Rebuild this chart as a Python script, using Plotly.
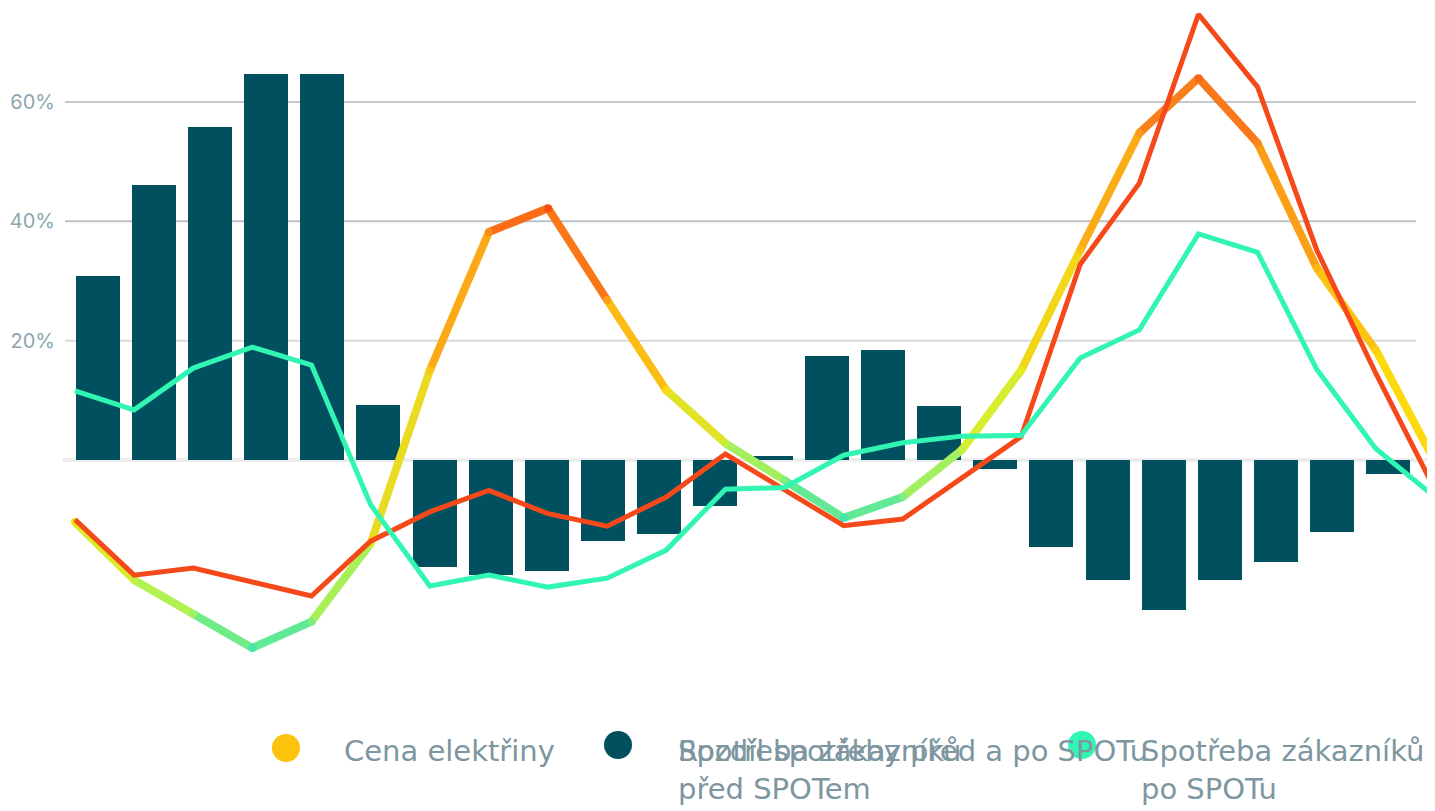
import plotly.graph_objects as go

# ---- data ----
HOURS = list(range(24))
PRICE = [-10.4, -20.1, -25.8, -31.5, -27.1, -14.0, 15.0, 38.2, 42.2, 26.8, 11.7, 2.8,
         -3.4, -9.7, -6.2, 1.7, 15.0, 35.2, 54.8, 64.0, 53.1, 32.2, 18.4, -0.3]
BEFORE = [-10.0, -19.3, -18.1, -20.4, -22.8, -13.6, -8.7, -5.1, -9.0, -11.1, -6.2, 1.0,
          -5.0, -11.0, -9.9, -2.9, 3.9, 32.8, 46.4, 74.7, 62.5, 35.2, 14.5, -5.0]
AFTER = [11.6, 8.4, 15.4, 18.9, 15.9, -7.5, -21.1, -19.3, -21.3, -19.8, -15.1, -4.9,
         -4.6, 0.8, 2.9, 4.0, 4.1, 17.1, 21.8, 37.9, 34.8, 15.2, 1.9, -6.2]
DIFF = [30.8, 46.1, 55.8, 64.7, 64.7, 9.2, -17.9, -19.3, -18.6, -13.6, -12.4, -7.7,
        0.6, 17.4, 18.4, 9.0, -1.5, -14.6, -20.1, -25.1, -20.1, -17.1, -12.1, -2.3]
Y_TICKS = [20, 40, 60]
Y_TICK_TEXT = ["20%", "40%", "60%"]
NAMES = ["Cena elektřiny", "Rozdíl spotřeby před a po SPOTu",
         "Spotřeba zákazníků<br>před SPOTem", "Spotřeba zákazníků<br>po SPOTu"]

# ---- styles ----
BAR_C = "#00505f"
RED_C = "#f5491a"
GREEN_C = "#31f5b3"
TXT_C = "#7d96a0"
TICK_C = "#8ea7ad"
PRICE_POINT_COLORS = ["#f2e40f", "#c6f142", "#9cf262", "#44e6ac", "#7cef80", "#d4ef30",
                      "#fcc812", "#fb8a1a", "#f94e17", "#fba01a", "#fcd80c", "#c6f040",
                      "#82ee7c", "#44e4ac", "#80ee80", "#c4f040", "#e8ec1c", "#fcc015",
                      "#fb9a1a", "#f8661c", "#fb8a1a", "#fcb515", "#fcd010", "#fde40a"]

OFF = 8                      # page body margin
W, H = 1435 - OFF, 811 - OFF
MT = 0
PH = 700
MB = H - MT - PH


def px(x):
    """reference screen x -> paper x"""
    return (x - OFF) / W


def py(y):
    """reference screen y -> paper y"""
    return (PH - (y - OFF - MT)) / PH


def mix(c1, c2):
    a = [int(c1[i:i + 2], 16) for i in (1, 3, 5)]
    b = [int(c2[i:i + 2], 16) for i in (1, 3, 5)]
    return "#%02x%02x%02x" % tuple((u + v) // 2 for u, v in zip(a, b))


fig = go.Figure()

fig.add_trace(go.Bar(x=HOURS, y=DIFF, marker=dict(color=BAR_C, line=dict(width=0)),
                     width=0.785, name=NAMES[1], showlegend=False,
                     xaxis="x", yaxis="y"))

for i in range(len(HOURS) - 1):
    fig.add_trace(go.Scatter(x=HOURS[i:i + 2], y=PRICE[i:i + 2], mode="lines",
                             line=dict(color=mix(PRICE_POINT_COLORS[i], PRICE_POINT_COLORS[i + 1]),
                                       width=8),
                             showlegend=False, hoverinfo="skip", xaxis="x2", yaxis="y"))
fig.add_trace(go.Scatter(x=HOURS, y=PRICE, mode="markers", name=NAMES[0],
                         marker=dict(color=PRICE_POINT_COLORS, size=8, line=dict(width=0)),
                         showlegend=False, xaxis="x2", yaxis="y"))

fig.add_trace(go.Scatter(x=HOURS, y=BEFORE, mode="lines", name=NAMES[2],
                         line=dict(color=RED_C, width=5), showlegend=False,
                         xaxis="x2", yaxis="y"))
fig.add_trace(go.Scatter(x=HOURS, y=AFTER, mode="lines", name=NAMES[3],
                         line=dict(color=GREEN_C, width=5), showlegend=False,
                         xaxis="x2", yaxis="y"))

# y scale: 0% at reference y=460, 60% at reference y=102
zero_fig = 460 - OFF - MT
pp = (460 - 102) / 60.0
Y1 = zero_fig / pp
Y0 = -(PH - zero_fig) / pp

shapes = []
grid_cols = {20: "#d6dadb", 40: "#bcc3c6", 60: "#c3c9cc"}
for t in Y_TICKS:
    shapes.append(dict(type="line", xref="paper", yref="y", x0=px(65), x1=px(1416),
                       y0=t, y1=t, line=dict(color=grid_cols.get(t, "#c3c9cc"), width=2),
                       layer="below"))
shapes.append(dict(type="line", xref="paper", yref="y", x0=px(63), x1=1, y0=0, y1=0,
                   line=dict(color="#ececec", width=4), layer="below"))

# legend markers
for cx, cy, col in [(286, 748, "#fcc30d"), (618, 745, BAR_C), (1082, 745, GREEN_C)]:
    r = 14
    shapes.append(dict(type="circle", xref="paper", yref="paper",
                       x0=px(cx - r), x1=px(cx + r), y0=py(cy + r), y1=py(cy - r),
                       fillcolor=col, line=dict(width=0), layer="above"))

ann = []
LF = dict(family="DejaVu Sans", size=29, color=TXT_C)
for x, txt in [(343, NAMES[0]), (677, NAMES[2]), (677, NAMES[1]), (1140, NAMES[3])]:
    ann.append(dict(x=px(x), y=py(733), xref="paper", yref="paper", text=txt,
                    showarrow=False, xanchor="left", yanchor="top", align="left",
                    font=LF, borderpad=0))

n_last = len(HOURS) - 1
fig.update_layout(
    width=W, height=H,
    margin=dict(l=0, r=0, t=MT, b=MB),
    paper_bgcolor="white", plot_bgcolor="rgba(0,0,0,0)",
    showlegend=False,
    bargap=0,
    xaxis=dict(domain=[px(63), px(1416)], range=[-0.624, n_last + 0.5], visible=False,
               fixedrange=True),
    xaxis2=dict(domain=[0, 1], range=[-(75 - OFF) / ((1435 - 75) / n_last), n_last],
                visible=False, anchor="y", fixedrange=True),
    yaxis=dict(range=[Y0, Y1], tickvals=Y_TICKS, ticktext=Y_TICK_TEXT, showgrid=False,
               zeroline=False, showline=False, ticks="", ticklabelstandoff=7,
               tickfont=dict(family="Inter", size=20, color=TICK_C), anchor="x",
               fixedrange=True),
    shapes=shapes,
    annotations=ann,
)

fig.write_html("out.html")
